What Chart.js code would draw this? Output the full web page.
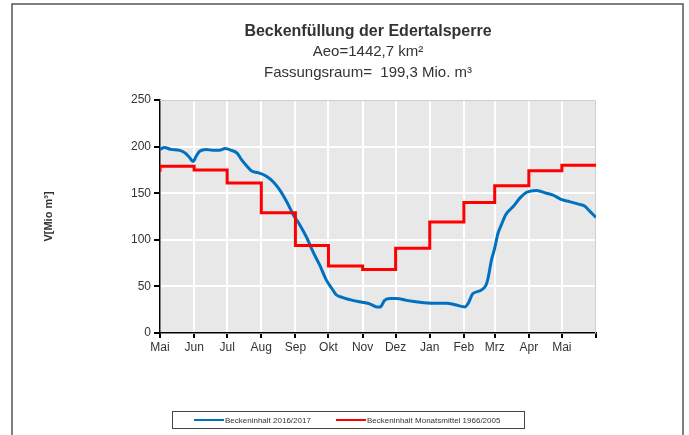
<!DOCTYPE html>
<html>
<head>
<meta charset="utf-8">
<script src="https://cdn.jsdelivr.net/npm/chart.js@4/dist/chart.umd.min.js"></script>
<style>
  html, body { margin: 0; padding: 0; background: #fff; }
  #wrap { width: 689px; height: 435px; position: relative; }
</style>
</head>
<body>
<div id="wrap"><canvas id="chart" width="689" height="435"></canvas></div>
<script>
// month boundaries as days since 1 May 2016
const monthDays = [0, 31, 61, 92, 123, 153, 184, 214, 245, 276, 304, 335, 365, 396];
const monthLabels = ['Mai','Jun','Jul','Aug','Sep','Okt','Nov','Dez','Jan','Feb','Mrz','Apr','Mai',''];

// Beckeninhalt 2016/2017
const blueDays = [0, 4, 10, 18, 23, 27, 30, 33, 36, 42, 48, 54, 59, 65, 70, 74, 79, 83, 89, 97, 103, 109, 115, 121, 127, 133, 139, 145, 151, 156, 160, 166, 175, 184, 191, 197, 200, 204, 209, 215, 224, 236, 248, 260, 269, 277, 280, 284, 290, 296, 298, 301, 304, 307, 310, 314, 321, 327, 333, 342, 351, 357, 365, 372, 381, 386, 390, 396];
const blueValues = [197, 199, 197, 196, 193, 188, 184, 190, 195, 197, 196, 196, 198, 196, 193, 186, 179, 174, 172, 168, 162, 153, 141, 127, 116, 103, 87, 73, 57, 48, 41, 38, 35, 33, 31, 28, 28, 35, 37, 37, 35, 33, 32, 32, 30, 28, 32, 42, 45, 51, 59, 78, 91, 107, 116, 127, 136, 145, 151, 153, 150, 148, 143, 141, 138, 136, 131, 124];

// Beckeninhalt Monatsmittel 1966/2005 (step per month)
const redDays = [0, 0, 31, 61, 92, 123, 153, 184, 214, 245, 276, 304, 335, 365, 396];
const redValues = [173, 179, 175, 161, 129, 94, 72, 68, 91, 119, 140, 158, 174, 180, 180];

const yTicks = [0, 50, 100, 150, 200, 250];

const bluePts = blueDays.map((d, i) => ({ x: d, y: blueValues[i] }));
const redPts = redDays.map((d, i) => ({ x: d, y: redValues[i] }));

const textColor = '#333';

const decor = {
  id: 'decor',
  beforeDraw(chart) {
    const { ctx, chartArea: a } = chart;
    ctx.save();
    ctx.fillStyle = '#fff';
    ctx.fillRect(0, 0, chart.width, chart.height);
    ctx.fillStyle = '#e8e8e8';
    ctx.fillRect(a.left, a.top, a.right - a.left, a.bottom - a.top);
    ctx.restore();
  },
  beforeDatasetsDraw(chart) {
    const { ctx, chartArea: a } = chart;
    ctx.save();
    ctx.strokeStyle = '#cfcfcf';
    ctx.lineWidth = 1;
    ctx.beginPath();
    ctx.moveTo(a.left, a.top + 0.5);
    ctx.lineTo(a.right - 0.5, a.top + 0.5);
    ctx.lineTo(a.right - 0.5, a.bottom);
    ctx.stroke();
    ctx.restore();
  },
  afterDraw(chart) {
    const { ctx } = chart;
    ctx.save();
    // outer frame
    ctx.strokeStyle = '#555';
    ctx.lineWidth = 1.5;
    ctx.strokeRect(12, 4, 671, 440);

    // titles
    ctx.fillStyle = textColor;
    ctx.textAlign = 'center';
    ctx.textBaseline = 'middle';
    ctx.font = 'bold 16px "Liberation Sans", Arial, sans-serif';
    ctx.fillText('Beckenfüllung der Edertalsperre', 368, 32);
    ctx.font = '15px "Liberation Sans", Arial, sans-serif';
    ctx.fillText('Aeo=1442,7 km²', 368, 52);
    ctx.fillText('Fassungsraum=  199,3 Mio. m³', 368, 73);

    // legend box
    ctx.strokeStyle = '#444';
    ctx.lineWidth = 1;
    ctx.strokeRect(172.5, 411.5, 352, 17);
    ctx.textAlign = 'left';
    ctx.font = '8px "Liberation Sans", Arial, sans-serif';
    const items = [[194, chart.data.datasets[0]], [336, chart.data.datasets[1]]];
    items.forEach(([x, ds]) => {
      ctx.strokeStyle = ds.borderColor;
      ctx.lineWidth = 2;
      ctx.beginPath();
      ctx.moveTo(x, 420);
      ctx.lineTo(x + 30, 420);
      ctx.stroke();
      ctx.fillStyle = textColor;
      ctx.fillText(ds.label, x + 31, 420.5);
    });
    ctx.restore();
  }
};

new Chart(document.getElementById('chart'), {
  type: 'line',
  data: {
    datasets: [
      { label: 'Beckeninhalt 2016/2017', data: bluePts, borderColor: '#0070c0', borderWidth: 3,
        pointRadius: 0, tension: 0.3, cubicInterpolationMode: 'monotone', order: 2 },
      { label: 'Beckeninhalt Monatsmittel 1966/2005', data: redPts, borderColor: '#ff0000', borderWidth: 3,
        pointRadius: 0, stepped: true, order: 1 }
    ]
  },
  options: {
    responsive: false,
    animation: false,
    layout: { padding: { left: 30, top: 100, right: 93, bottom: 72 } },
    plugins: { legend: { display: false }, title: { display: false }, tooltip: { enabled: false } },
    scales: {
      x: {
        type: 'linear',
        min: 0, max: 396,
        afterBuildTicks: (axis) => { axis.ticks = monthDays.map(v => ({ value: v })); },
        afterFit: (axis) => { axis.height = 30; },
        ticks: {
          autoSkip: false, maxRotation: 0, padding: 2,
          color: textColor, font: { family: '"Liberation Sans", Arial, sans-serif', size: 12 },
          callback: (v, i) => monthLabels[i]
        },
        grid: { color: '#fff', lineWidth: 2, tickColor: '#000', tickLength: 5, drawTicks: true },
        border: { color: '#000', width: 1.5 }
      },
      y: {
        min: 0, max: 250,
        afterBuildTicks: (axis) => { axis.ticks = yTicks.map(v => ({ value: v })); },
        afterFit: (axis) => { axis.width = 130; },
        ticks: { color: textColor, padding: 3, font: { family: '"Liberation Sans", Arial, sans-serif', size: 12 } },
        grid: { color: '#fff', lineWidth: 2, tickColor: '#000', tickLength: 6 },
        border: { color: '#000', width: 1.5 },
        title: { display: true, text: 'V[Mio m³]', color: textColor, padding: { top: 12 },
          font: { family: '"Liberation Sans", Arial, sans-serif', size: 11, weight: 'bold' } }
      }
    }
  },
  plugins: [decor]
});
</script>
</body>
</html>
